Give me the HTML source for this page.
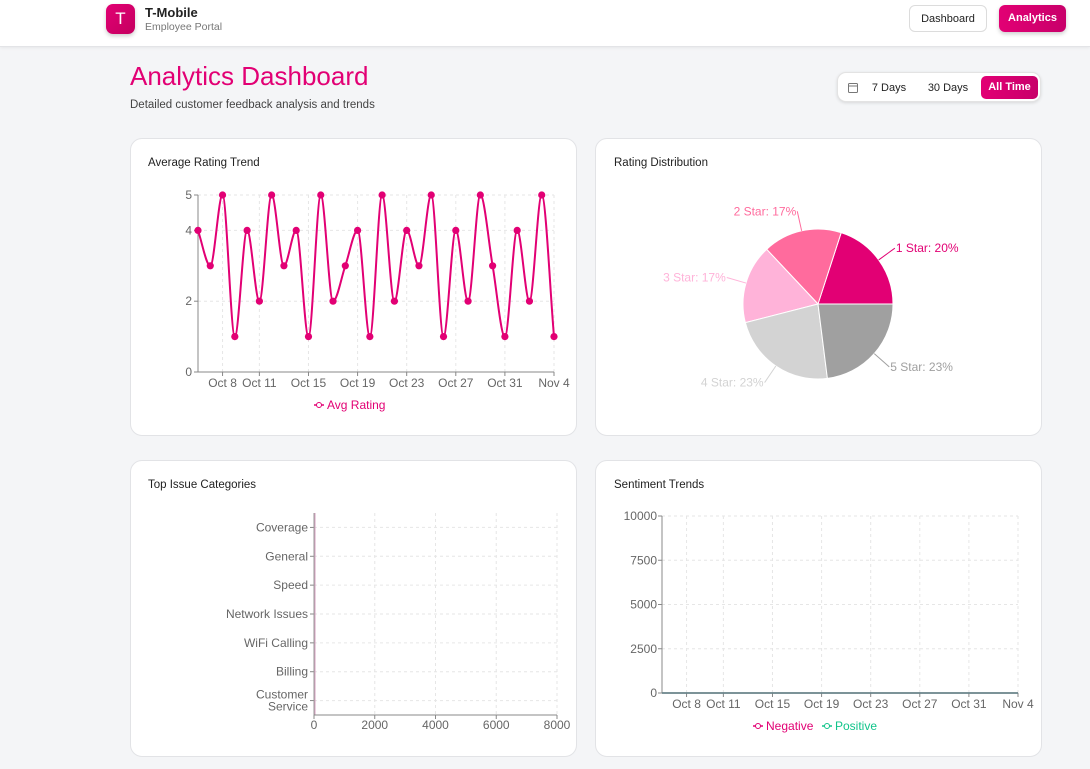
<!DOCTYPE html>
<html><head><meta charset="utf-8">
<style>
*{box-sizing:border-box;margin:0;padding:0}
body{width:1090px;height:769px;overflow:hidden;background:#f4f5f7;font-family:"Liberation Sans",sans-serif;position:relative}
.hdr{position:absolute;left:0;top:0;width:1090px;height:47px;background:#fff;border-bottom:1px solid #e3e4e7;box-shadow:0 1px 3px rgba(0,0,0,.06)}
.logo{position:absolute;left:106px;top:4px;width:29px;height:30px;border-radius:7px;background:linear-gradient(135deg,#e20074,#c4005f);color:#fff;font-size:17px;text-align:center;line-height:30px;box-shadow:0 2px 4px rgba(0,0,0,.2)}
.brand{position:absolute;left:145px;top:5px;font-size:13px;font-weight:bold;color:#222}
.sub{position:absolute;left:145px;top:21px;font-size:10.5px;color:#777}
.btn{position:absolute;top:5px;height:27px;border-radius:6px;font-size:11px;line-height:27px;text-align:center}
.card{position:absolute;background:#fff;border:1px solid #e2e3e6;border-radius:12px}
.ct{position:absolute;font-size:11.5px;color:#222}
svg text{font-family:"Liberation Sans",sans-serif}
</style></head><body>
<div class="hdr">
 <div class="logo">T</div>
 <div class="brand">T-Mobile</div>
 <div class="sub">Employee Portal</div>
 <div class="btn" style="left:909px;width:78px;border:1px solid #dcdcdc;color:#222;background:#fff">Dashboard</div>
 <div class="btn" style="left:999px;width:67px;background:linear-gradient(90deg,#e20074,#c8006a);color:#fff;font-weight:bold;box-shadow:0 2px 4px rgba(0,0,0,.2)">Analytics</div>
</div>
<div style="position:absolute;left:130px;top:61px;font-size:26px;color:#e20074">Analytics Dashboard</div>
<div style="position:absolute;left:130px;top:99px;font-size:11.5px;color:#444">Detailed customer feedback analysis and trends</div>
<div style="position:absolute;left:837px;top:72px;width:204px;height:30px;background:#fff;border:1px solid #e3e3e3;border-radius:9px;box-shadow:0 1px 3px rgba(0,0,0,.12)">
 <svg style="position:absolute;left:10px;top:9px" width="10" height="11"><rect x="0.5" y="1.5" width="9" height="9" rx="1" fill="none" stroke="#777"/><line x1="0.5" y1="4" x2="9.5" y2="4" stroke="#777"/></svg>
 <div style="position:absolute;left:28px;top:1px;width:46px;line-height:28px;font-size:11px;text-align:center;color:#222">7 Days</div>
 <div style="position:absolute;left:84px;top:1px;width:52px;line-height:28px;font-size:11px;text-align:center;color:#222">30 Days</div>
 <div style="position:absolute;left:143px;top:3px;width:57px;height:23px;line-height:23px;border-radius:5px;font-size:11px;font-weight:bold;text-align:center;color:#fff;background:linear-gradient(90deg,#e20074,#c8006a)">All Time</div>
</div>
<div class="card" style="left:130px;top:138px;width:447px;height:298px"></div>
<div class="card" style="left:595px;top:138px;width:447px;height:298px"></div>
<div class="card" style="left:130px;top:460px;width:447px;height:297px"></div>
<div class="card" style="left:595px;top:460px;width:447px;height:297px"></div>
<div class="ct" style="left:148px;top:157px">Average Rating Trend</div>
<div class="ct" style="left:614px;top:157px">Rating Distribution</div>
<div class="ct" style="left:148px;top:479px">Top Issue Categories</div>
<div class="ct" style="left:614px;top:479px">Sentiment Trends</div>
<svg id="s" width="1090" height="769" style="position:absolute;left:0;top:0"></svg>
<script>
const ratings=[4,3,5,1,4,2,5,3,4,1,5,2,3,4,1,5,2,4,3,5,1,4,2,5,3,1,4,2,5,1];
const dateTickIdx=[2,5,9,13,17,21,25,29];
const dateTickLabels=["Oct 8","Oct 11","Oct 15","Oct 19","Oct 23","Oct 27","Oct 31","Nov 4"];
const ratingTicks=[0,2,4,5];
const pieLabels=["1 Star","2 Star","3 Star","4 Star","5 Star"];
const pieValues=[20,17,17,23,23];
const pieColors=["#e20074","#ff6b9d","#ffb3d9","#d3d3d3","#a0a0a0"];
const issueCats=["Coverage","General","Speed","Network Issues","WiFi Calling","Billing","Customer Service"];
const issueValues=[0,0,0,0,0,0,0];
const issueTicks=[0,2000,4000,6000,8000];
const negValues=new Array(30).fill(0);
const posValues=new Array(30).fill(0);
const sentTicks=[0,2500,5000,7500,10000];
const FS=12;

const S=document.getElementById('s'),NS='http://www.w3.org/2000/svg';
function el(t,a,txt){const e=document.createElementNS(NS,t);for(const k in a)e.setAttribute(k,a[k]);if(txt!=null)e.textContent=txt;S.appendChild(e);return e;}
function mono(pts){let n=pts.length;if(n<2)return'';let dx=[],m=[],t=[];for(let i=0;i<n-1;i++){dx[i]=pts[i+1][0]-pts[i][0];m[i]=(pts[i+1][1]-pts[i][1])/dx[i];}
t[0]=m[0];t[n-1]=m[n-2];for(let i=1;i<n-1;i++){t[i]=(m[i-1]*m[i]<=0)?0:(function(){let s0=m[i-1],s1=m[i],p=(s0+s1)/2;return (Math.sign(s0)+Math.sign(s1))*Math.min(Math.abs(s0),Math.abs(s1),0.5*Math.abs(p));})();}
let d='M'+pts[0][0]+','+pts[0][1];for(let i=0;i<n-1;i++){let h=dx[i]/3;d+=' C'+(pts[i][0]+h)+','+(pts[i][1]+h*t[i])+' '+(pts[i+1][0]-h)+','+(pts[i+1][1]-h*t[i+1])+' '+pts[i+1][0]+','+pts[i+1][1];}return d;}

// chart 1
(function(){const x0=198,x1=554,y0=372,y1=195;
const X=i=>x0+(x1-x0)*i/(ratings.length-1),Y=v=>y0-(y0-y1)*v/5;
dateTickIdx.forEach(i=>{const g=el('line',{x1:X(i),x2:X(i),y1:y1,y2:y0,stroke:'#e6e6e6','stroke-dasharray':'3 3'});});
ratingTicks.forEach(v=>{const g=el('line',{x1:x0,x2:x1,y1:Y(v),y2:Y(v),stroke:'#e6e6e6','stroke-dasharray':'3 3'});
const t=el('text',{x:x0-6,y:Y(v)+4,'text-anchor':'end','font-size':FS,fill:'#666'},v);
el('line',{x1:x0-4,x2:x0,y1:Y(v),y2:Y(v),stroke:'#888'});});
el('line',{x1:x0,x2:x0,y1:y1,y2:y0,stroke:'#888'});el('line',{x1:x0,x2:x1,y1:y0,y2:y0,stroke:'#888'});
dateTickIdx.forEach((i,k)=>{el('line',{x1:X(i),x2:X(i),y1:y0,y2:y0+4,stroke:'#888'});const t=el('text',{x:X(i),y:y0+15,'text-anchor':'middle','font-size':FS,fill:'#666'},dateTickLabels[k]);});
const p=el('path',{d:mono(ratings.map((v,i)=>[X(i),Y(v)])),fill:'none',stroke:'#e20074','stroke-width':2});
ratings.forEach((v,i)=>{const c=el('circle',{cx:X(i),cy:Y(v),r:3.6,fill:'#e20074'});});
el('line',{x1:314,x2:324,y1:405,y2:405,stroke:'#e20074','stroke-width':1.5});el('circle',{cx:319,cy:405,r:2.5,fill:'#fff',stroke:'#e20074'});
const l=el('text',{x:327,y:409,'font-size':FS,fill:'#e20074'},'Avg Rating');
})();

// pie
(function(){const cx=818,cy=304,r=75;const tot=pieValues.reduce((a,b)=>a+b,0);let a=0;
pieValues.forEach((v,i)=>{const a0=a,a1=a+v/tot*360;a=a1;const rad=d=>d*Math.PI/180;
const p0=[cx+r*Math.cos(rad(a0)),cy-r*Math.sin(rad(a0))],p1=[cx+r*Math.cos(rad(a1)),cy-r*Math.sin(rad(a1))];
const s=el('path',{d:`M${cx},${cy} L${p0[0]},${p0[1]} A${r},${r} 0 ${a1-a0>180?1:0} 0 ${p1[0]},${p1[1]} Z`,fill:pieColors[i],stroke:'#fff','stroke-width':1});

const m=rad((a0+a1)/2),c=Math.cos(m),sn=Math.sin(m);
el('path',{d:`M${cx+r*c},${cy-r*sn} L${cx+(r+20)*c},${cy-(r+20)*sn}`,stroke:pieColors[i],fill:'none'});
const t=el('text',{x:cx+(r+20)*c+(c>=0?1:-1),y:cy-(r+20)*sn+4,'text-anchor':c>=0?'start':'end','font-size':FS,fill:pieColors[i]},pieLabels[i]+': '+Math.round(v/tot*100)+'%');
});
})();

// bar
(function(){const x0=314,x1=557,y0=715,y1=513,max=8000;const X=v=>x0+(x1-x0)*v/max;const bw=(y0-y1)/issueCats.length;
issueTicks.forEach(v=>{el('line',{x1:X(v),x2:X(v),y1:y1,y2:y0,stroke:'#e6e6e6','stroke-dasharray':'3 3'});el('line',{x1:X(v),x2:X(v),y1:y0,y2:y0+4,stroke:'#888'});
const t=el('text',{x:X(v),y:y0+14,'text-anchor':'middle','font-size':FS,fill:'#666'},v);});
issueCats.forEach((c,i)=>{const y=y1+bw*(i+0.5);el('line',{x1:x0,x2:x1,y1:y,y2:y,stroke:'#e6e6e6','stroke-dasharray':'3 3'});el('line',{x1:x0-4,x2:x0,y1:y,y2:y,stroke:'#888'});
const b=el('rect',{x:x0,y:y-bw*0.4,width:X(issueValues[i])-x0,height:bw*0.8,fill:'#e20074'});
const parts=c==='Customer Service'?['Customer','Service']:[c];
parts.forEach((p,k)=>{const t=el('text',{x:x0-6,y:y+4+(k-(parts.length-1)/2)*12,'text-anchor':'end','font-size':FS,fill:'#666'},p);});});
el('line',{x1:x0,x2:x0,y1:y1,y2:y0,stroke:'#999'});el('line',{x1:x0+1,x2:x0+1,y1:y1,y2:y0,stroke:'#d7a0c0'});el('line',{x1:x0,x2:x1,y1:y0,y2:y0,stroke:'#888'});
})();

// sentiment
(function(){const x0=662,x1=1018,y0=693,y1=516,max=10000;const X=i=>x0+(x1-x0)*i/(negValues.length-1),Y=v=>y0-(y0-y1)*v/max;
dateTickIdx.forEach((i,k)=>{el('line',{x1:X(i),x2:X(i),y1:y1,y2:y0,stroke:'#e6e6e6','stroke-dasharray':'3 3'});el('line',{x1:X(i),x2:X(i),y1:y0,y2:y0+4,stroke:'#888'});
const t=el('text',{x:X(i),y:y0+15,'text-anchor':'middle','font-size':FS,fill:'#666'},dateTickLabels[k]);});
sentTicks.forEach(v=>{el('line',{x1:x0,x2:x1,y1:Y(v),y2:Y(v),stroke:'#e6e6e6','stroke-dasharray':'3 3'});el('line',{x1:x0-4,x2:x0,y1:Y(v),y2:Y(v),stroke:'#888'});
const t=el('text',{x:x0-5,y:Y(v)+4,'text-anchor':'end','font-size':FS,fill:'#666'},v);});
el('line',{x1:x0,x2:x0,y1:y1,y2:y0,stroke:'#888'});
const n=el('path',{d:mono(negValues.map((v,i)=>[X(i),Y(v)])),fill:'none',stroke:'#e20074','stroke-width':1.5});
const p=el('path',{d:mono(posValues.map((v,i)=>[X(i),Y(v)])),fill:'none',stroke:'#2a9a86','stroke-width':1.5});
el('line',{x1:x0,x2:x1,y1:y0,y2:y0,stroke:'#6a9a92'});
el('line',{x1:753,x2:763,y1:726,y2:726,stroke:'#e20074','stroke-width':1.5});el('circle',{cx:758,cy:726,r:2.5,fill:'#fff',stroke:'#e20074'});
const l1=el('text',{x:766,y:730,'font-size':FS,fill:'#e20074'},'Negative');
el('line',{x1:822,x2:832,y1:726,y2:726,stroke:'#10c48a','stroke-width':1.5});el('circle',{cx:827,cy:726,r:2.5,fill:'#fff',stroke:'#10c48a'});
const l2=el('text',{x:835,y:730,'font-size':FS,fill:'#10c48a'},'Positive');
})();
</script>
</body></html>
